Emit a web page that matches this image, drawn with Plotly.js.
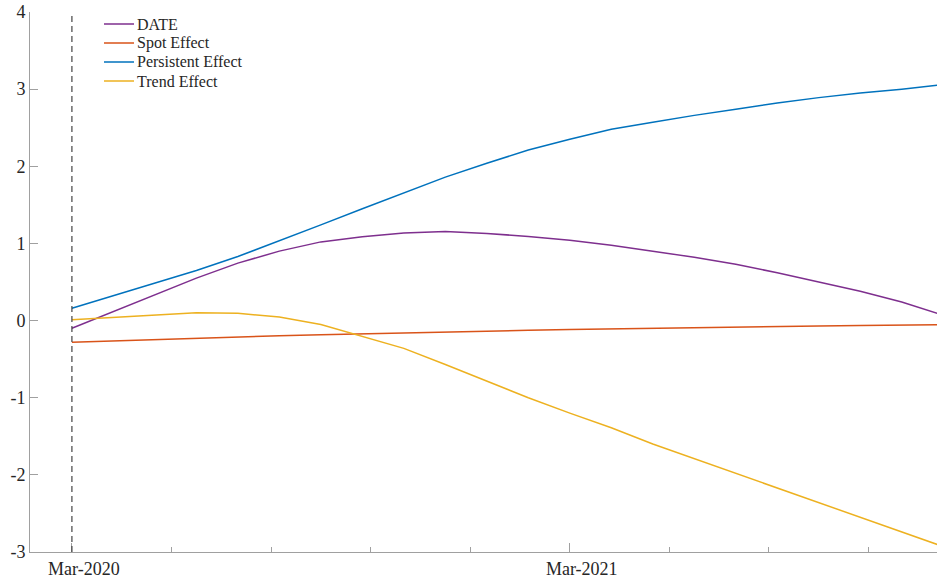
<!DOCTYPE html>
<html>
<head>
<meta charset="utf-8">
<script src="https://cdn.plot.ly/plotly-3.0.1.min.js"></script>
<style>html,body{margin:0;padding:0;background:#fff;}#chart{width:937px;height:580px;}</style>
</head>
<body>
<div id="chart"></div>
<script>
// months since Mar-2020
const months = [0,1,2,3,4,5,6,7,8,9,10,11,12,13,14,15,16,17,18,19,20,21];
const dateEffect = [-0.10,0.12,0.34,0.55,0.745,0.90,1.02,1.085,1.135,1.155,1.13,1.09,1.04,0.975,0.90,0.82,0.73,0.62,0.50,0.38,0.24,0.07];
const spotEffect = [-0.28,-0.262,-0.244,-0.228,-0.212,-0.198,-0.184,-0.171,-0.159,-0.147,-0.136,-0.126,-0.116,-0.107,-0.098,-0.090,-0.083,-0.076,-0.069,-0.063,-0.057,-0.052];
const persistentEffect = [0.16,0.32,0.48,0.65,0.83,1.03,1.24,1.45,1.66,1.86,2.04,2.21,2.35,2.48,2.57,2.66,2.74,2.82,2.89,2.95,3.00,3.06];
const trendEffect = [0.01,0.04,0.075,0.10,0.095,0.045,-0.05,-0.20,-0.36,-0.57,-0.79,-1.00,-1.20,-1.39,-1.60,-1.79,-1.97,-2.16,-2.35,-2.54,-2.74,-2.93];
const seriesNames = ['DATE','Spot Effect','Persistent Effect','Trend Effect'];
const seriesColors = ['#7E2F8E','#D95319','#0072BD','#EDB120'];
const xTickVals = [0,12];
const xTickText = ['Mar-2020','Mar-2021'];
const yTickVals = [-3,-2,-1,0,1,2,3,4];
const yTickText = ['-3','-2','-1','0','1','2','3','4'];

const allSeries = [dateEffect, spotEffect, persistentEffect, trendEffect];
const traces = allSeries.map((ys,i)=>({
  x: months, y: ys, type:'scatter', mode:'lines', name: seriesNames[i],
  line:{color: seriesColors[i], width:1.5}, showlegend:false
}));

// plot area geometry (px) for legend placement
const W = 937, H = 580, mL = 30, mR = 0, mT = 12, mB = 28;
const pw = W - mL - mR, ph = H - mT - mB;
const px = v => (v - mL) / pw;
const py = v => (H - mB - v) / ph;

const shapes = [{type:'line', xref:'x', yref:'paper', x0:0, x1:0, y0:0, y1:1,
                 line:{color:'#444', width:1.2, dash:'6px,4px'}}];
const annotations = [];
seriesNames.forEach((n,i)=>{
  const yc = 24 + i*19;
  shapes.push({type:'line', xref:'paper', yref:'paper', x0:px(104), x1:px(134), y0:py(yc), y1:py(yc),
               line:{color:seriesColors[i], width:1.5}});
  annotations.push({xref:'paper', yref:'paper', x:px(135), y:py(yc), xanchor:'left', yanchor:'middle',
                    text:n, showarrow:false, font:{size:16, color:'#262626'}});
});

const axisCol = '#a0a0a0';
const layout = {
  width:W, height:H,
  margin:{l:mL,r:mR,t:mT,b:mB},
  paper_bgcolor:'#fff', plot_bgcolor:'#fff',
  font:{family:'"Liberation Serif", "Times New Roman", serif', color:'#262626', size:18},
  showlegend:false,
  xaxis:{range:[-1.01,20.85], showgrid:false, zeroline:false, showline:true, linecolor:axisCol, linewidth:1,
         tickmode:'array', tickvals:xTickVals, ticktext:xTickText, ticks:'inside', ticklen:9, tickcolor:axisCol,
         ticklabelshift:12,
         minor:{tickmode:'linear', tick0:0, dtick:2.4, ticks:'inside', ticklen:5, tickcolor:axisCol, showgrid:false}},
  yaxis:{range:[-3,4], showgrid:false, zeroline:false, showline:true, linecolor:axisCol, linewidth:1,
         tickmode:'array', tickvals:yTickVals, ticktext:yTickText, ticks:'inside', ticklen:8, tickcolor:axisCol},
  shapes: shapes,
  annotations: annotations
};
Plotly.newPlot('chart', traces, layout, {displayModeBar:false, staticPlot:true});
</script>
</body>
</html>
